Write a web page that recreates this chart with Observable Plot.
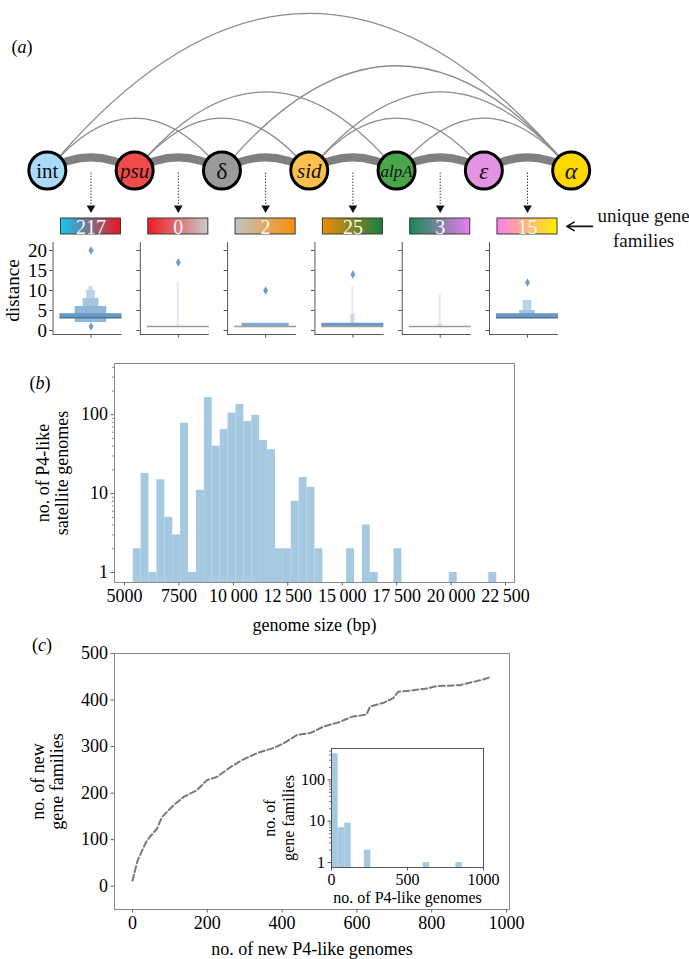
<!DOCTYPE html>
<html><head><meta charset="utf-8">
<script src="https://cdn.jsdelivr.net/npm/d3@7"></script>
<script src="https://cdn.jsdelivr.net/npm/@observablehq/plot@0.6"></script>
<style>
body{margin:0;background:#fff;}
#fig{position:relative;width:689px;height:959px;font-family:"Liberation Serif","Times New Roman",serif;color:#000;overflow:hidden;background:#fff}
#fig svg, #fig svg text{font-family:"Liberation Serif","Times New Roman",serif;}
.plab{position:absolute;font-size:18px;line-height:1;transform:translate(-50%,-50%);white-space:nowrap}
</style></head><body><div id="fig"></div>
<script>
// ---------------- DATA ----------------
// (a) gene order and co-occurrence arcs
const nodeNames = ["int", "psu", "δ", "sid", "alpA", "ε", "α"];
const arcEdges = [["int","δ"],["int","α"],["psu","sid"],["psu","alpA"],["δ","α"],["sid","ε"],["sid","α"],["alpA","α"]];
const uniqueFamilies = [217, 0, 2, 25, 3, 15];
// boxen (letter-value) boxes of distance per neighbouring pair
const boxenPair  = [0, 0, 0, 0, 0, 1, 2, 3, 3, 3, 4, 4, 5, 5, 5];
const boxenLow   = [2, 2, 2, 2, 3, 1, 1, 1, 1, 1, 1, 1, 3, 3, 3];
const boxenHigh  = [11, 10, 8, 6, 4.2, 12, 1.8, 11, 4, 1.8, 9, 1.6, 7.5, 5, 4.2];
const boxenLevel = [5, 4, 3, 2, 0, 6, 1, 6, 5, 0, 6, 5, 4, 3, 0];
const medianValue = [3.2, 1, 1, 1, 1, 3.2];
const outlierPair  = [0, 0, 1, 2, 3, 5];
const outlierValue = [20, 1, 17, 10, 14, 12];
const distanceTicks = [0, 5, 10, 15, 20];
// (b) genome size histogram
const sizeBinStart = 5400, sizeBinWidth = 363;
const sizeCounts = [2,18,1,15,5,3,78,1,11,165,40,65,105,135,82,98,47,36,2,2,8,16,12,2,0,0,0,2,0,4,1,0,0,2,0,0,0,0,0,0,1,0,0,0,0,1];
const sizeTicks = [5000, 7500, 10000, 12500, 15000, 17500, 20000, 22500];
// (c) accumulation curve
const newGenomes  = [0, 14, 26, 39, 66, 79, 110, 137, 172, 199, 226, 262, 293, 333, 377, 404, 440, 475, 511, 555, 586, 626, 635, 671, 697, 711, 751, 787, 813, 876, 911, 938, 956];
const newFamilies = [12, 56, 77, 99, 124, 149, 174, 192, 206, 228, 235, 256, 271, 286, 297, 307, 325, 329, 343, 353, 364, 369, 386, 394, 404, 418, 421, 425, 430, 432, 439, 444, 449];
const familyTicksY = [0, 100, 200, 300, 400, 500];
const genomeTicksX = [0, 200, 400, 600, 800, 1000];
// (c) inset histogram
const famBinStart = 1, famBinWidth = 43;
const famCounts = [427, 7, 9, 0, 0, 2, 0, 0, 0, 0, 0, 0, 0, 0, 1, 0, 0, 0, 0, 1];

// ---------------- STYLES ----------------
const FONT = '"Liberation Serif","Times New Roman",serif';
const nodeColors = ["#a9daf7", "#f24b4b", "#9a9a9a", "#ffbf4f", "#4aa64a", "#e293e2", "#ffd800"];
const nodeItalic = [false, true, false, true, true, true, true];
const nodeFont = [21, 21, 24, 21, 17, 23, 24];
const gradStops = [["#12c8f2","#ea1520"],["#ee1a22","#cacaca"],["#c4c4c4","#f7900a"],["#f08c08","#168040"],["#148a52","#ea7cf2"],["#ff7cf0","#fff000"]];
const levelWidth = [0.355, 0.27, 0.18, 0.09, 0.05, 0.025, 0.012];
const levelColor = ["#6899c5", "#80abd2", "#90b6d8", "#a5c4e0", "#bad2e9", "#c7dbed", "#e1ebf5"];
const medianColor = ["#4a7399", "#9c9c9c", "#9c9c9c", "#9c9c9c", "#9c9c9c", "#4a7399"];
const barFill = "#a6c9e2";

const X_DOMAIN = [-90.5 / 87.3, (689 - 90.5) / 87.3];
const fig = document.getElementById("fig");
const abs = (left, top, fs = 18) => ({"position": "absolute", "left": left + "px", "top": top + "px", "background": "transparent", "overflow": "visible", "font-family": FONT, "font-size": fs + "px"});

// ---------- custom quadratic curve (arc3 style) ----------
function quadCurve(context) {
  let pts = [];
  return {
    areaStart() {}, areaEnd() {},
    lineStart() { pts = []; },
    point(x, y) { pts.push([+x, +y]); },
    lineEnd() {
      if (pts.length === 3) {
        context.moveTo(pts[0][0], pts[0][1]);
        context.quadraticCurveTo(pts[1][0], pts[1][1], pts[2][0], pts[2][1]);
      }
    }
  };
}

const idx = n => nodeNames.indexOf(n);
const nodes = nodeNames.map((name, k) => ({name, k, pos: k - 0.5, color: nodeColors[k], italic: nodeItalic[k], fs: nodeFont[k]}));
const arcPts = arcEdges.flatMap(([a, b], e) => {
  const i = idx(a) - 0.5, j = idx(b) - 0.5;
  return [{e, x: i, y: 0}, {e, x: (i + j) / 2, y: 0.6 * (j - i)}, {e, x: j, y: 0}];
});
const pairs = d3.range(nodeNames.length - 1);
const linkPts = pairs.flatMap(k => [{k, x: k - 0.5, y: 0}, {k, x: k, y: 0.3}, {k, x: k + 0.5, y: 0}]);

// ---------------- (a) diagram ----------------
const diag = Plot.plot({
  width: 689, height: 240, margin: 0,
  x: {domain: X_DOMAIN, axis: null},
  y: {domain: [-70 / 87.3, 170 / 87.3], axis: null},
  color: {type: "identity"},
  style: abs(0, 0),
  marks: [
    Plot.line(arcPts, {x: "x", y: "y", z: "e", curve: quadCurve, stroke: "#8c8c8c", strokeWidth: 1.3}),
    Plot.line(linkPts, {x: "x", y: "y", z: "k", curve: quadCurve, stroke: "#808080", strokeWidth: 8}),
    Plot.dot(nodes, {x: "pos", y: 0, r: 18.5, fill: "color", stroke: "black", strokeWidth: 3}),
    Plot.text(nodes.filter(d => !d.italic), {x: "pos", y: 0, text: "name", fontSize: "fs", fill: "#111", dy: 1}),
    Plot.text(nodes.filter(d => d.italic), {x: "pos", y: 0, text: "name", fontSize: "fs", fontStyle: "italic", fill: "#111", dy: 1}),
    Plot.ruleX(pairs, {x: d => d, y1: -0.03, y2: -0.40, stroke: "#222", strokeWidth: 1, strokeDasharray: "1.3,1.7"}),
    Plot.dot(pairs, {x: d => d, y: -0.43, symbol: "triangle", rotate: 180, r: 3.2, fill: "#111", stroke: "none"}),
    Plot.rect(pairs, {x1: d => d - 0.344, x2: d => d + 0.344, y1: -0.55, y2: -0.733, fill: d => `url(#ug${d})`, stroke: "#3a3a3a", strokeWidth: 1}),
    Plot.text(pairs, {x: d => d, y: -0.641, text: d => String(uniqueFamilies[d]), fill: "#fafafa", fontSize: 20, dy: 1}),
    Plot.arrow([0], {x1: 5.745, x2: 5.45, y1: -0.64, y2: -0.64, stroke: "#111", strokeWidth: 1.6, headLength: 9}),
    Plot.text(["unique gene\nfamilies"], {x: 6.33, y: -0.64, text: d => d, fontSize: 19, lineHeight: 1.3, fill: "#111"})
  ]
});
{
  const defs = d3.select(diag).insert("defs", ":first-child");
  gradStops.forEach((s, i) => {
    const g = defs.append("linearGradient").attr("id", "ug" + i).attr("x1", "0").attr("x2", "1").attr("y1", "0").attr("y2", "0");
    g.append("stop").attr("offset", "0").attr("stop-color", s[0]);
    g.append("stop").attr("offset", "1").attr("stop-color", s[1]);
  });
}
fig.appendChild(diag);

// ---------------- (a) boxen plots ----------------
const boxes = boxenPair.map((p, i) => ({p, lo: boxenLow[i], hi: boxenHigh[i], level: boxenLevel[i]}));
const outliers = outlierPair.map((p, i) => ({p, v: outlierValue[i]}));
const spineL = 0.435, spineR = 0.355;
const yTickRows = pairs.flatMap(p => distanceTicks.map(t => ({p, t})));
const boxPlot = Plot.plot({
  width: 689, height: 106, marginTop: 6, marginBottom: 8, marginLeft: 0, marginRight: 0,
  x: {domain: X_DOMAIN, axis: null},
  y: {domain: [-1, 22], axis: null},
  color: {type: "identity"},
  style: abs(0, 236),
  marks: [
    Plot.rect(boxes, {x1: d => d.p - levelWidth[d.level], x2: d => d.p + levelWidth[d.level], y1: "lo", y2: "hi", fill: d => levelColor[d.level]}),
    Plot.ruleY(pairs, {y: d => medianValue[d], x1: d => d - spineR, x2: d => d + spineR, stroke: d => medianColor[d], strokeWidth: 1.5}),
    Plot.dot(outliers, {x: "p", y: "v", symbol: "diamond", r: 2.6, fill: "#6b9fca", stroke: "none"}),
    Plot.ruleX(pairs, {x: d => d - spineL, y1: -1, y2: 22, stroke: "#555", strokeWidth: 1}),
    Plot.ruleY(pairs, {y: -1, x1: d => d - spineL, x2: d => d + spineR, stroke: "#555", strokeWidth: 1}),
    Plot.ruleX(pairs, {x: d => d, y1: -1, y2: -1.9, stroke: "#555", strokeWidth: 1}),
    Plot.ruleY(yTickRows, {y: "t", x1: d => d.p - spineL, x2: d => d.p - spineL - 0.04, stroke: "#555", strokeWidth: 1}),
    Plot.text(distanceTicks, {x: -spineL, y: d => d, text: d => String(d), textAnchor: "end", dx: -6, fontSize: 19}),
    Plot.text(["distance"], {x: -0.9, y: 10, text: d => d, rotate: -90, fontSize: 19})
  ]
});
fig.appendChild(boxPlot);

// ---------------- (b) histogram ----------------
const sizeBins = sizeCounts.map((c, i) => ({x1: sizeBinStart + i * sizeBinWidth, x2: sizeBinStart + (i + 1) * sizeBinWidth, c})).filter(d => d.c > 0);
const fmtBp = d => d >= 10000 ? String(d).replace(/\B(?=(\d{3})+(?!\d))/g, "\u2009") : String(d);
const minorLog = [2,3,4,5,6,7,8,9,20,30,40,50,60,70,80,90,200,300,400,500];
const bPlot = Plot.plot({
  width: 689, height: 300, marginLeft: 114, marginRight: 175, marginTop: 23, marginBottom: 58,
  x: {domain: [4541, 22913]},
  y: {type: "log", domain: [0.747, 446]},
  style: abs(0, 340),
  marks: [
    Plot.rect(sizeBins, {x1: "x1", x2: "x2", y1: 0.747, y2: "c", fill: barFill}),
    Plot.frame({stroke: "#8a8a8a"}),
    Plot.axisX({ticks: sizeTicks, tickFormat: fmtBp, tickSize: 3.5, tickPadding: 3, label: null, stroke: "#666"}),
    Plot.axisY({ticks: [1, 10, 100], tickFormat: d => String(d), tickSize: 3.5, tickPadding: 3, label: null, stroke: "#666"}),
    Plot.axisY({ticks: minorLog.filter(v => v < 446), tickFormat: () => "", tickSize: 2, label: null, stroke: "#888"}),
    Plot.text(["no. of P4-like\nsatellite genomes"], {frameAnchor: "left", text: d => d, rotate: -90, dx: -62, textAnchor: "middle", lineAnchor: "middle", lineHeight: 1.08}),
    Plot.text(["genome size (bp)"], {frameAnchor: "bottom", text: d => d, dy: 43, textAnchor: "middle", lineAnchor: "middle"})
  ]
});
fig.appendChild(bPlot);

// ---------------- (c) accumulation ----------------
const curve = newGenomes.map((g, i) => ({g, f: newFamilies[i]}));
const cPlot = Plot.plot({
  width: 689, height: 319, marginLeft: 114, marginRight: 180, marginTop: 13, marginBottom: 50,
  x: {domain: [-48, 1008]},
  y: {domain: [-50, 500]},
  style: abs(0, 640),
  marks: [
    Plot.frame({stroke: "#8a8a8a"}),
    Plot.line(curve, {x: "g", y: "f", stroke: "#7a7a7a", strokeWidth: 2, strokeDasharray: "6,3"}),
    Plot.axisX({ticks: genomeTicksX, tickFormat: d => String(d), tickSize: 3.5, tickPadding: 3, label: null, stroke: "#666"}),
    Plot.axisY({ticks: familyTicksY, tickFormat: d => String(d), tickSize: 3.5, tickPadding: 3, label: null, stroke: "#666"}),
    Plot.text(["no. of new\ngene families"], {frameAnchor: "left", text: d => d, rotate: -90, dx: -67, textAnchor: "middle", lineAnchor: "middle", lineHeight: 1.08}),
    Plot.text(["no. of new P4-like genomes"], {frameAnchor: "bottom", text: d => d, dy: 40, textAnchor: "middle", lineAnchor: "middle"})
  ]
});
fig.appendChild(cPlot);

// ---------------- (c) inset ----------------
const famBins = famCounts.map((c, i) => ({x1: famBinStart + i * famBinWidth, x2: famBinStart + (i + 1) * famBinWidth, c})).filter(d => d.c > 0);
const inset = Plot.plot({
  width: 263, height: 170, marginLeft: 101, marginRight: 10, marginTop: 13, marginBottom: 38,
  x: {domain: [0, 1000]},
  y: {type: "log", domain: [0.76, 575]},
  style: abs(230, 735, 16),
  marks: [
    Plot.frame({fill: "white"}),
    Plot.rect(famBins, {x1: "x1", x2: "x2", y1: 0.76, y2: "c", fill: barFill}),
    Plot.frame({stroke: "#555"}),
    Plot.axisX({ticks: [0, 500, 1000], tickFormat: d => String(d), tickSize: 3.5, tickPadding: 3, label: null, stroke: "#555"}),
    Plot.axisY({ticks: [1, 10, 100], tickFormat: d => String(d), tickSize: 3.5, tickPadding: 3, label: null, stroke: "#555"}),
    Plot.axisY({ticks: minorLog.filter(v => v < 575), tickFormat: () => "", tickSize: 2, label: null, stroke: "#777"}),
    Plot.text(["no. of\ngene families"], {frameAnchor: "left", text: d => d, rotate: -90, dx: -53, dy: 10, textAnchor: "middle", lineAnchor: "middle", lineHeight: 1.2}),
    Plot.text(["no. of P4-like genomes"], {frameAnchor: "bottom", text: d => d, dy: 30, textAnchor: "middle", lineAnchor: "middle"})
  ]
});
fig.appendChild(inset);

// ---------------- panel letters ----------------
[["a", 22, 47], ["b", 40, 383], ["c", 42, 645]].forEach(([l, x, y]) => {
  const s = document.createElement("div");
  s.className = "plab";
  s.style.left = x + "px"; s.style.top = y + "px";
  s.innerHTML = `(<i>${l}</i>)`;
  fig.appendChild(s);
});
</script></body></html>
